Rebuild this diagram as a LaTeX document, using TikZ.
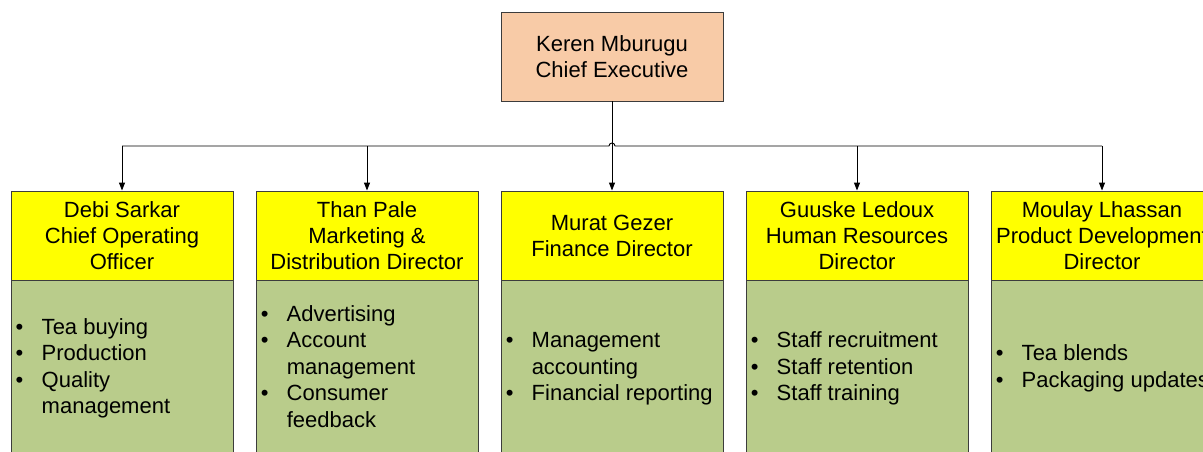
\documentclass[tikz,border=0pt]{standalone}
\usepackage{fontspec}
\setmainfont{Liberation Sans}
\usetikzlibrary{arrows.meta}

\definecolor{ceofill}{RGB}{248,203,167}
\definecolor{headfill}{RGB}{255,255,0}
\definecolor{dutyfill}{RGB}{185,204,139}
\definecolor{boxline}{RGB}{60,60,60}

\tikzset{
    box/.style={draw=boxline, line width=0.9pt, minimum width=222pt, minimum height=89pt,
        inner sep=0pt, align=center, font=\fontsize{22}{26}\selectfont},
    ceo/.style={box, fill=ceofill},
    head/.style={box, fill=headfill},
    duty/.style={box, fill=dutyfill, minimum height=176pt, anchor=north},
    list/.style={inner sep=0pt, anchor=west, font=\fontsize{22}{26.5}\selectfont},
    link/.style={draw=black, line width=0.9pt},
    arrow/.style={link, -{Triangle[length=8pt,width=6pt]}}
}
\newcommand{\itm}{\makebox[26pt][l]{\textbullet}}
\newcommand{\cont}{\hspace{26pt}}

\begin{document}
\begin{tikzpicture}[x=1pt, y=-1pt]
    \clip (0, 0) rectangle (1203, 452);

    \node[ceo] (ceo) at (612, 56.5) {Keren Mburugu\\Chief Executive};

    \node[head] (coo) at (122, 235.5) {Debi Sarkar\\Chief Operating\\Officer};
    \node[head] (mkt) at (367, 235.5) {Than Pale\\Marketing \&\\Distribution Director};
    \node[head] (fin) at (612, 235.5) {Murat Gezer\\Finance Director};
    \node[head] (hr) at (857, 235.5) {Guuske Ledoux\\Human Resources\\Director};
    \node[head] (prod) at (1102, 235.5) {Moulay Lhassan\\Product Development\\Director};

    \node[duty] (coo duty) at (coo.south) {};
    \node[duty] (mkt duty) at (mkt.south) {};
    \node[duty] (fin duty) at (fin.south) {};
    \node[duty] (hr duty) at (hr.south) {};
    \node[duty] (prod duty) at (prod.south) {};

    % bullet lists
    \node[list, right=5pt] at (coo duty.west) {%
        \begin{tabular}{@{}l@{}}
        \itm Tea buying\\ \itm Production\\ \itm Quality\\ \cont management
        \end{tabular}};
    \node[list, right=5pt] at (mkt duty.west) {%
        \begin{tabular}{@{}l@{}}
        \itm Advertising\\ \itm Account\\ \cont management\\ \itm Consumer\\ \cont feedback
        \end{tabular}};
    \node[list, right=5pt] at (fin duty.west) {%
        \begin{tabular}{@{}l@{}}
        \itm Management\\ \cont accounting\\ \itm Financial reporting
        \end{tabular}};
    \node[list, right=5pt] at (hr duty.west) {%
        \begin{tabular}{@{}l@{}}
        \itm Staff recruitment\\ \itm Staff retention\\ \itm Staff training
        \end{tabular}};
    \node[list, right=5pt] at (prod duty.west) {%
        \begin{tabular}{@{}l@{}}
        \itm Tea blends\\ \itm Packaging updates
        \end{tabular}};

    % reporting lines
    \coordinate (bus) at (612, 146);
    \draw[link] (ceo.south) -- (bus);
    \draw[link] (coo.north |- bus) -- ([xshift=-3pt]bus)
        arc[start angle=180, end angle=0, radius=3pt] -- (prod.north |- bus);
    \draw[arrow] (coo.north |- bus) -- (coo.north);
    \draw[arrow] (mkt.north |- bus) -- (mkt.north);
    \draw[arrow] (bus) -- (fin.north);
    \draw[arrow] (hr.north |- bus) -- (hr.north);
    \draw[arrow] (prod.north |- bus) -- (prod.north);
\end{tikzpicture}
\end{document}
